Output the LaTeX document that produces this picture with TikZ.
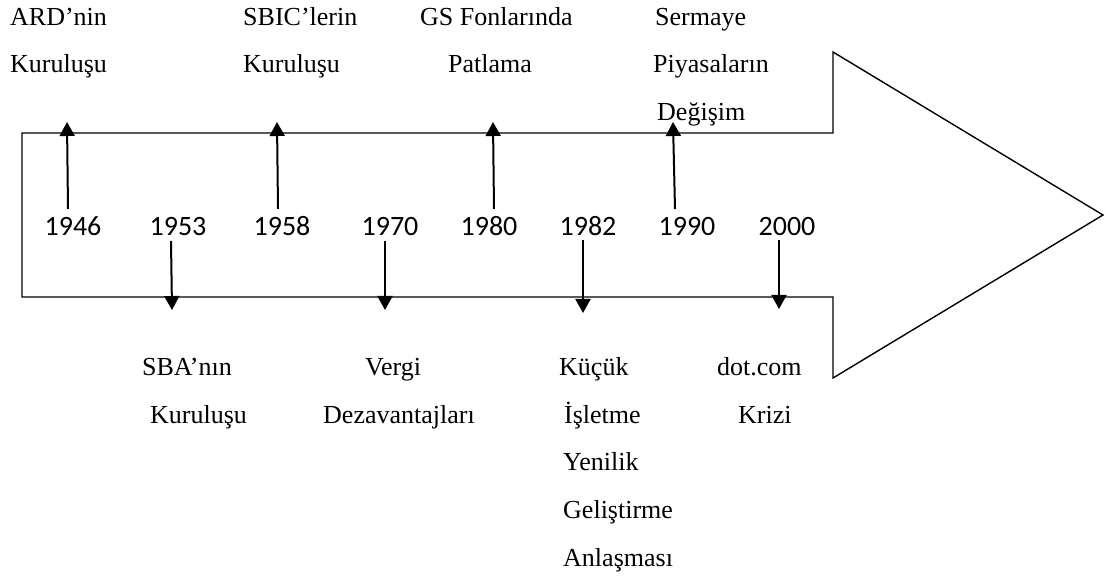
\documentclass[tikz,border=0pt]{standalone}
\usepackage{fontspec}
\setmainfont{Liberation Serif}
\newfontfamily\yearfont{Carlito}
\usetikzlibrary{arrows.meta}
\begin{document}
\begin{tikzpicture}[x=1pt,y=-1pt,
  lbl/.style={font=\fontsize{26}{26}\selectfont, inner sep=0pt, anchor=base west},
  yr/.style={font=\yearfont\fontsize{28}{28}\selectfont, inner sep=0pt, anchor=base},
  tl/.style={-{Triangle[width=15pt,length=14pt]}, line width=2pt},
  frame/.style={line width=1.4pt, line join=miter}]
\useasboundingbox (0,0) rectangle (1106,577);
% big arrow
\draw[frame] (22,133) -- (833,133) -- (833,52) -- (1103,215) -- (833,378) -- (833,297) -- (22,297) -- cycle;
% years
\node[yr] (y1946) at (73,236) {1946};
\node[yr] (y1953) at (178,236) {1953};
\node[yr] (y1958) at (282,236) {1958};
\node[yr] (y1970) at (390,236) {1970};
\node[yr] (y1980) at (489,236) {1980};
\node[yr] (y1982) at (588,236) {1982};
\node[yr] (y1990) at (687,236) {1990};
\node[yr] (y2000) at (787,236) {2000};
% arrow end points
\coordinate (s1946) at (68,209); \coordinate (e1946) at (67,122);
\coordinate (s1958) at (278,209); \coordinate (e1958) at (277,122);
\coordinate (s1980) at (494,209); \coordinate (e1980) at (493,122);
\coordinate (s1990) at (675,209); \coordinate (e1990) at (673,122);
\coordinate (s1953) at (171,241); \coordinate (e1953) at (172,310);
\coordinate (s1970) at (385,241); \coordinate (e1970) at (385,310);
\coordinate (s1982) at (583,240); \coordinate (e1982) at (583,313);
\coordinate (s2000) at (779,240); \coordinate (e2000) at (779,309);
\draw[tl] (s1946) -- (e1946);
\draw[tl] (s1958) -- (e1958);
\draw[tl] (s1980) -- (e1980);
\draw[tl] (s1990) -- (e1990);
\draw[tl] (s1953) -- (e1953);
\draw[tl] (s1970) -- (e1970);
\draw[tl] (s1982) -- (e1982);
\draw[tl] (s2000) -- (e2000);
% top labels
\node[lbl] (ard1) at (10,26) {ARD’nin};
\node[lbl] (ard2) at (10,73) {Kuruluşu};
\node[lbl] (sbic1) at (243,26) {SBIC’lerin};
\node[lbl] (sbic2) at (243,73) {Kuruluşu};
\node[lbl] (gs1) at (420,26) {GS Fonlarında};
\node[lbl] (gs2) at (448,73) {Patlama};
\node[lbl] (sp1) at (655,26) {Sermaye};
\node[lbl] (sp2) at (653,73) {Piyasaların};
\node[lbl] (sp3) at (657,121) {Değişim};
% bottom labels
\node[lbl] (sba1) at (142,375) {SBA’nın};
\node[lbl] (sba2) at (150,423) {Kuruluşu};
\node[lbl] (vg1) at (365,375) {Vergi};
\node[lbl] (vg2) at (323,423) {Dezavantajları};
\node[lbl] (kc1) at (559,375) {Küçük};
\node[lbl] (kc2) at (564,423) {İşletme};
\node[lbl] (kc3) at (563,470) {Yenilik};
\node[lbl] (kc4) at (563,518) {Geliştirme};
\node[lbl] (kc5) at (563,566) {Anlaşması};
\node[lbl] (dc1) at (717,375) {dot.com};
\node[lbl] (dc2) at (738,423) {Krizi};
\end{tikzpicture}
\end{document}
